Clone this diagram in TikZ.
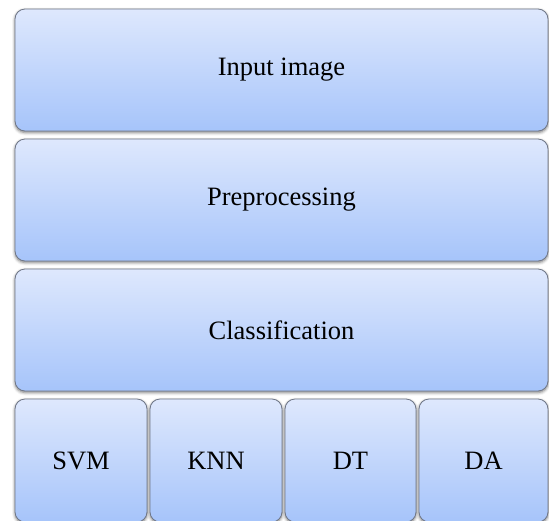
\documentclass[tikz,border=0pt]{standalone}
\usepackage{fontspec}
\setmainfont{Liberation Serif}
\newfontfamily\layerfont{Liberation Serif}
\usepackage{tikz}
\usetikzlibrary{shadows.blur}

\definecolor{layertop}{RGB}{222,232,253}
\definecolor{layerbottom}{RGB}{166,196,250}
\definecolor{layerline}{RGB}{110,118,135}

\tikzset{
  layer/.style={draw=layerline, line width=0.8pt, rounded corners=10pt,
    top color=layertop, bottom color=layerbottom,
    blur shadow={shadow xshift=0pt, shadow yshift=-1.5pt, shadow blur radius=3pt, shadow opacity=55},
    inner sep=0pt, font=\layerfont\fontsize{26.5}{31}\selectfont},
  widelayer/.style={layer, minimum width=533pt, minimum height=122pt},
  methodbox/.style={layer, minimum width=132pt, minimum height=123pt}
}

\begin{document}
\begin{tikzpicture}[x=1pt, y=-1pt]
        \useasboundingbox (0, 0) rectangle (549, 520);
        \clip (0, 0) rectangle (549, 520);

        \node[widelayer] (input) at (281.5, 70) {Input image};
        \node[widelayer] (prep) at (281.5, 200) {Preprocessing};
        \node[widelayer] (class) at (281.5, 330) {Classification};

        % bottom row runs past the lower edge
        \node[methodbox] (svm) at (81, 460.5) {SVM};
        \node[methodbox] (knn) at (216, 460.5) {KNN};
        \node[methodbox, minimum width=131pt] (dt) at (350.5, 460.5) {DT};
        \node[methodbox, minimum width=129pt] (da) at (483.5, 460.5) {DA};
    \end{tikzpicture}
\end{document}
